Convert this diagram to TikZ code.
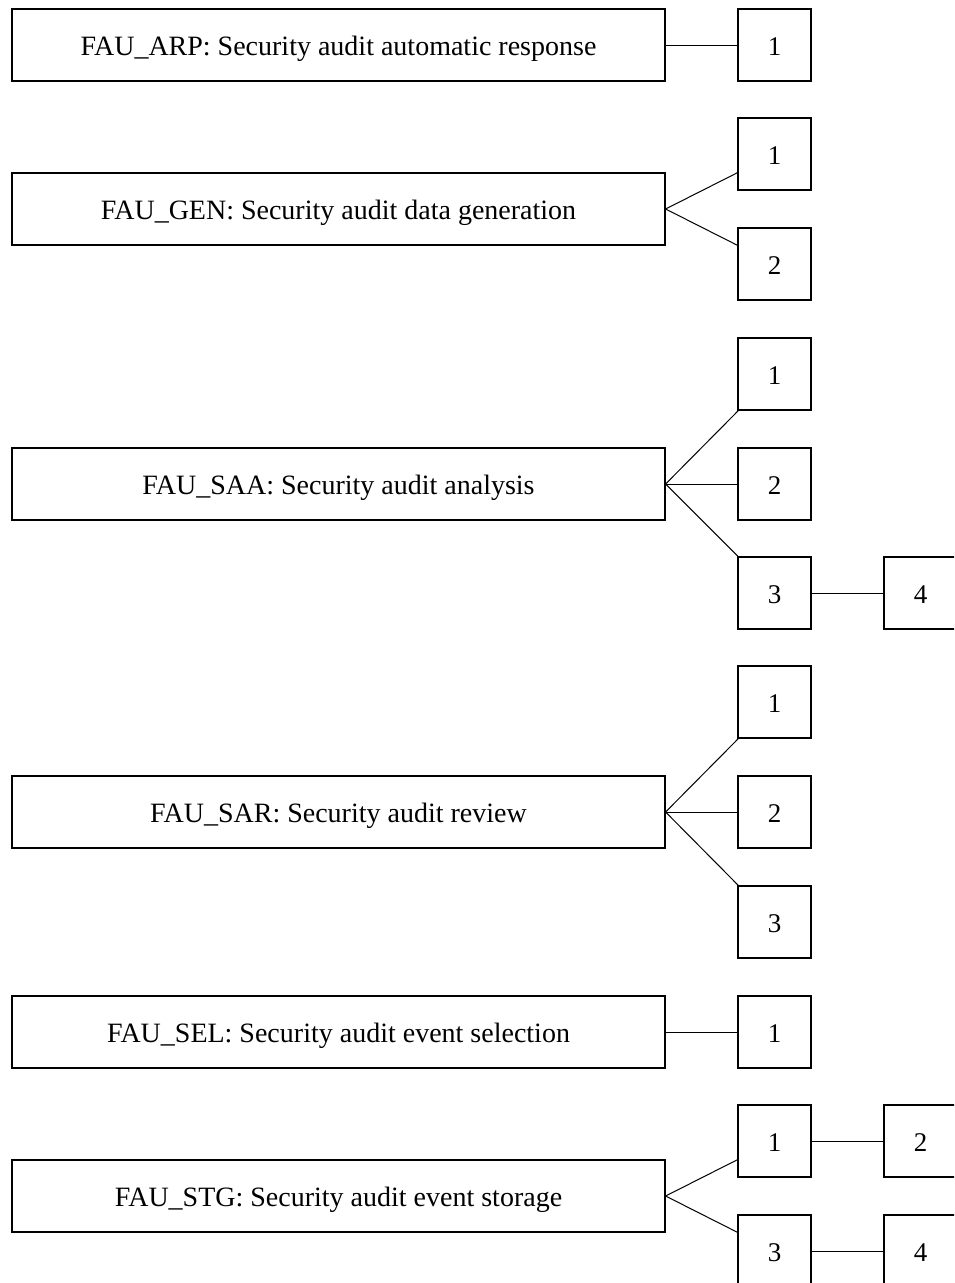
\documentclass[tikz,border=0pt]{standalone}
\usepackage{fontspec}
\setmainfont{Liberation Serif}
\begin{document}
\begin{tikzpicture}[x=1pt,y=-1pt,
  bigbox/.style={draw,line width=1.2pt,minimum width=653pt,minimum height=72pt,inner sep=0pt,text height=22pt,text depth=2pt,font=\fontsize{28}{32}\selectfont},
  numbox/.style={draw,line width=1.2pt,minimum width=73pt,minimum height=72pt,inner sep=0pt,text height=22pt,text depth=1pt,font=\fontsize{27}{31}\selectfont},
  link/.style={line width=1pt}]
\useasboundingbox (0,0) rectangle (954,1283);
\clip (0,0) rectangle (954,1283);
% FAU_ARP
\node[bigbox] (arp) at (338.5,45) {FAU\_ARP: Security audit automatic response};
\node[numbox] (arp1) at (774.5,45) {1};
\draw[link] (arp.east) -- (arp1);
% FAU_GEN
\node[bigbox] (gen) at (338.5,209) {FAU\_GEN: Security audit data generation};
\node[numbox] (gen1) at (774.5,154) {1};
\node[numbox] (gen2) at (774.5,264) {2};
\draw[link] (gen.east) -- (gen1);
\draw[link] (gen.east) -- (gen2);
% FAU_SAA
\node[bigbox] (saa) at (338.5,484) {FAU\_SAA: Security audit analysis};
\node[numbox] (saa1) at (774.5,374) {1};
\node[numbox] (saa2) at (774.5,484) {2};
\node[numbox] (saa3) at (774.5,593) {3};
\node[numbox] (saa4) at (920.5,593) {4};
\draw[link] (saa.east) -- (saa1);
\draw[link] (saa.east) -- (saa2);
\draw[link] (saa.east) -- (saa3);
\draw[link] (saa3) -- (saa4);
% FAU_SAR
\node[bigbox] (sar) at (338.5,812) {FAU\_SAR: Security audit review};
\node[numbox] (sar1) at (774.5,702) {1};
\node[numbox] (sar2) at (774.5,812) {2};
\node[numbox] (sar3) at (774.5,922) {3};
\draw[link] (sar.east) -- (sar1);
\draw[link] (sar.east) -- (sar2);
\draw[link] (sar.east) -- (sar3);
% FAU_SEL
\node[bigbox] (sel) at (338.5,1032) {FAU\_SEL: Security audit event selection};
\node[numbox] (sel1) at (774.5,1032) {1};
\draw[link] (sel.east) -- (sel1);
% FAU_STG
\node[bigbox] (stg) at (338.5,1196) {FAU\_STG: Security audit event storage};
\node[numbox] (stg1) at (774.5,1141) {1};
\node[numbox] (stg2) at (920.5,1141) {2};
\node[numbox] (stg3) at (774.5,1251) {3};
\node[numbox] (stg4) at (920.5,1251) {4};
\draw[link] (stg.east) -- (stg1);
\draw[link] (stg.east) -- (stg3);
\draw[link] (stg1) -- (stg2);
\draw[link] (stg3) -- (stg4);
\end{tikzpicture}
\end{document}
